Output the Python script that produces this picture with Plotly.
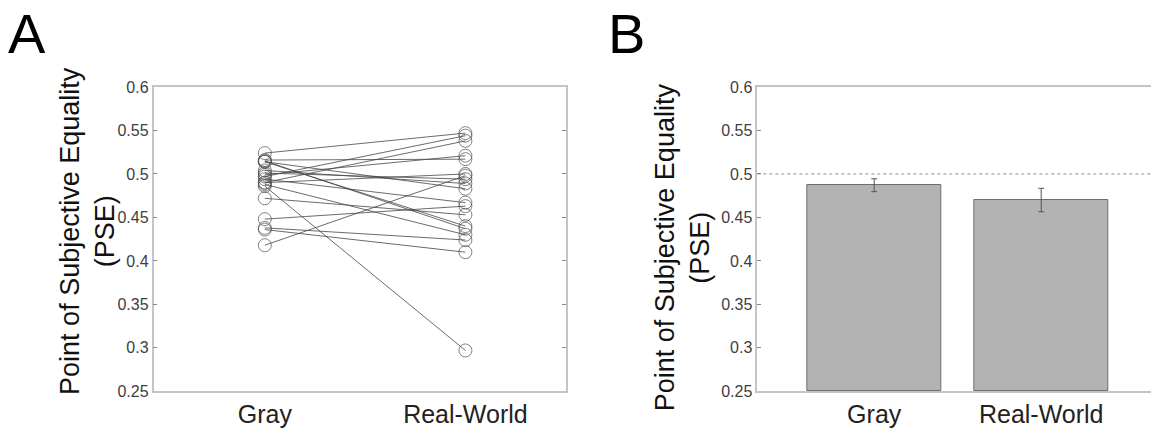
import plotly.graph_objects as go

# ---------------- data ----------------
categories = ["Gray", "Real-World"]
gray_pse = [0.524, 0.516, 0.515, 0.514, 0.514, 0.504, 0.501, 0.499, 0.497, 0.494,
            0.490, 0.490, 0.488, 0.486, 0.472, 0.448, 0.438, 0.436, 0.418]
realworld_pse = [0.547, 0.517, 0.437, 0.440, 0.483, 0.489, 0.494, 0.521, 0.544, 0.467,
                 0.538, 0.500, 0.430, 0.297, 0.453, 0.463, 0.424, 0.410, 0.498]
bar_means = [0.487, 0.470]
bar_sem = [0.0074, 0.0135]
y_ticks = [0.25, 0.3, 0.35, 0.4, 0.45, 0.5, 0.55, 0.6]
y_ticklabels = ["0.25", "0.3", "0.35", "0.4", "0.45", "0.5", "0.55", "0.6"]
panel_letters = ["A", "B"]
reference_level = 0.5

W, H = 1151, 435
fig = go.Figure()

# Panel A: paired lines
for g, r in zip(gray_pse, realworld_pse):
    fig.add_trace(go.Scatter(
        x=[1, 2], y=[g, r], mode="lines+markers",
        line=dict(color="rgba(70,70,70,0.8)", width=1),
        marker=dict(symbol="circle-open", size=13, color="rgba(80,80,80,0.7)",
                    line=dict(width=1)),
        xaxis="x", yaxis="y", showlegend=False, hoverinfo="skip"))

# Panel B: bars
fig.add_trace(go.Bar(
    x=[1, 2], y=[m - 0.25 for m in bar_means], base=0.25, width=0.8,
    marker=dict(color="#b3b3b3", line=dict(color="#6e6e6e", width=1)),
    error_y=dict(type="data", array=bar_sem, color="#555555", thickness=1, width=3),
    xaxis="x2", yaxis="y2", showlegend=False))

# Panel letters on an invisible full-page pixel axis
fig.add_trace(go.Scatter(
    x=[8, 608], y=[32, 32], mode="text", text=panel_letters,
    textposition="middle right",
    textfont=dict(family="Liberation Sans, Arial", size=56, color="black"),
    xaxis="x3", yaxis="y3", showlegend=False, hoverinfo="skip", cliponaxis=False))

axis_line = "#c4c4c4"
tickfont = dict(family="Liberation Sans, Arial", size=16, color="#404040")
catfont = dict(family="Liberation Sans, Arial", size=25, color="#222222")

ydom = [0.083, 0.811]
fig.update_layout(
    width=W, height=H, margin=dict(l=0, r=0, t=0, b=0),
    paper_bgcolor="white", plot_bgcolor="rgba(0,0,0,0)",
    xaxis=dict(domain=[153.5 / W, 565.7 / W], range=[0.445, 2.5],
               tickvals=[1, 2], ticktext=categories, tickfont=catfont,
               showline=True, linecolor=axis_line, linewidth=1.5, mirror=True,
               ticks="", showgrid=False, zeroline=False, fixedrange=True),
    yaxis=dict(domain=ydom, range=[0.25, 0.6], tickvals=y_ticks, ticktext=y_ticklabels,
               tickfont=tickfont, showline=True, linecolor=axis_line, linewidth=1.5,
               mirror="ticks", ticks="inside", ticklen=4, tickcolor="#888888",
               showgrid=False, zeroline=False),
    xaxis2=dict(domain=[757.3 / W, 1.0], range=[0.3, 0.3 + (W - 757.3) / 167.0],
                anchor="y2", tickvals=[1, 2], ticktext=categories, tickfont=catfont,
                showline=True, linecolor=axis_line, linewidth=1.5, mirror=True,
                ticks="", showgrid=False, zeroline=False),
    yaxis2=dict(domain=ydom, range=[0.25, 0.6], anchor="x2", tickvals=y_ticks,
                ticktext=y_ticklabels, tickfont=tickfont, showline=True,
                linecolor=axis_line, linewidth=1.5, ticks="inside", ticklen=4,
                tickcolor="#888888", showgrid=False, zeroline=False),
    xaxis3=dict(domain=[0, 1], range=[0, W], visible=False, anchor="y3"),
    yaxis3=dict(domain=[0, 1], range=[H, 0], visible=False, anchor="x3"),
    bargap=0,
)

# dotted reference line at 0.5 in panel B
fig.add_shape(type="line", xref="x2 domain", yref="y2", x0=0, x1=1,
              y0=reference_level, y1=reference_level,
              line=dict(color="#8c8c8c", width=1, dash="dot"), layer="below")

title_font = dict(family="Liberation Sans, Arial", size=27, color="#111111")
ytitle = "Point of Subjective Equality<br>(PSE)"
fig.add_annotation(text=ytitle, x=88 / W, y=1 - 232 / H, xref="paper", yref="paper",
                   textangle=-90, showarrow=False, font=title_font,
                   xanchor="center", yanchor="middle")
fig.add_annotation(text=ytitle, x=682 / W, y=1 - 249 / H, xref="paper", yref="paper",
                   textangle=-90, showarrow=False, font=title_font,
                   xanchor="center", yanchor="middle")

fig.write_html("out.html")
